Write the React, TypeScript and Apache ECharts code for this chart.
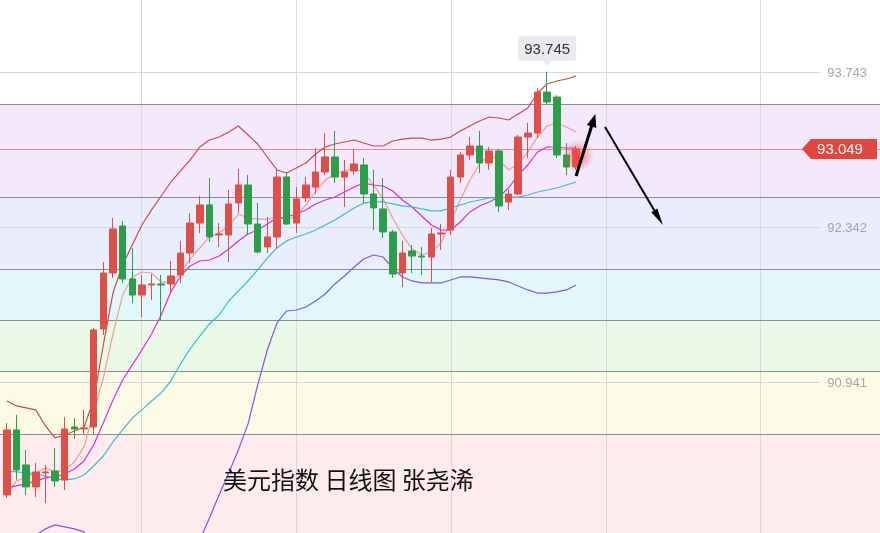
import React, { useEffect, useRef } from 'react';
import * as echarts from 'echarts';

// ---- data ----
const days: string[] = Array.from({ length: 91 }, (_, i) => String(i + 1));

// [open, close, low, high]
const candles: number[][] = [
  [89.925, 90.512, 89.898, 90.575],
  [90.512, 90.151, 90.061, 90.647],
  [90.196, 89.998, 89.925, 90.332],
  [89.998, 90.133, 89.907, 90.214],
  [90.124, 90.133, 89.853, 90.196],
  [90.142, 90.052, 89.998, 90.350],
  [90.061, 90.521, 89.970, 90.629],
  [90.539, 90.521, 90.431, 90.620],
  [90.521, 90.530, 90.476, 90.693],
  [90.539, 91.415, 90.476, 91.433],
  [91.424, 91.929, 91.369, 92.028],
  [91.929, 92.326, 91.884, 92.425],
  [92.353, 91.875, 91.839, 92.398],
  [91.875, 91.730, 91.658, 92.155],
  [91.730, 91.821, 91.532, 91.911],
  [91.821, 91.830, 91.685, 91.920],
  [91.830, 91.821, 91.505, 91.911],
  [91.830, 91.902, 91.757, 92.037],
  [91.911, 92.109, 91.839, 92.218],
  [92.109, 92.380, 92.019, 92.470],
  [92.380, 92.543, 92.290, 92.624],
  [92.543, 92.254, 92.209, 92.786],
  [92.272, 92.281, 92.164, 92.380],
  [92.272, 92.552, 92.028, 92.678],
  [92.561, 92.723, 92.470, 92.868],
  [92.723, 92.371, 92.272, 92.813],
  [92.371, 92.118, 92.109, 92.561],
  [92.164, 92.254, 92.109, 92.434],
  [92.254, 92.795, 92.155, 92.859],
  [92.795, 92.371, 92.362, 92.840],
  [92.380, 92.597, 92.290, 92.705],
  [92.606, 92.723, 92.570, 92.795],
  [92.705, 92.840, 92.642, 93.057],
  [92.840, 92.976, 92.813, 93.192],
  [92.976, 92.795, 92.741, 93.211],
  [92.795, 92.840, 92.525, 92.949],
  [92.850, 92.913, 92.813, 93.048],
  [92.904, 92.642, 92.561, 92.967],
  [92.642, 92.516, 92.317, 92.859],
  [92.507, 92.299, 92.245, 92.786],
  [92.299, 91.920, 91.884, 92.317],
  [91.929, 92.109, 91.803, 92.218],
  [92.128, 92.082, 91.929, 92.182],
  [92.082, 92.073, 91.911, 92.164],
  [92.073, 92.281, 91.848, 92.335],
  [92.281, 92.290, 92.137, 92.371],
  [92.317, 92.795, 92.272, 92.859],
  [92.795, 92.994, 92.741, 93.021],
  [92.994, 93.075, 92.949, 93.156],
  [93.075, 92.922, 92.831, 93.211],
  [92.922, 93.030, 92.859, 93.066],
  [93.030, 92.534, 92.479, 93.048],
  [92.570, 92.642, 92.498, 92.678],
  [92.642, 93.156, 92.633, 93.174],
  [93.156, 93.192, 92.967, 93.283],
  [93.192, 93.562, 93.147, 93.599],
  [93.562, 93.472, 93.454, 93.745],
  [93.517, 92.994, 92.967, 93.535],
  [92.994, 92.886, 92.813, 93.102],
  [92.886, 93.049, 92.859, 93.075],
];

const bollUpper = [
  90.774, 90.729, 90.711, 90.693, 90.548, 90.440, 90.467, 90.503, 90.539, 90.783,
  91.279, 91.748, 92.001, 92.182, 92.362, 92.498, 92.624, 92.750, 92.850, 92.949,
  93.066, 93.129, 93.156, 93.202, 93.256, 93.174, 93.093, 92.976, 92.859, 92.831,
  92.877, 92.922, 93.003, 93.066, 93.093, 93.111, 93.129, 93.102, 93.075, 93.075,
  93.120, 93.138, 93.147, 93.147, 93.129, 93.138, 93.156, 93.211, 93.256, 93.301,
  93.337, 93.328, 93.310, 93.364, 93.418, 93.553, 93.635, 93.662, 93.680, 93.707,
];

const bollMid = [
  90.142, 90.133, 90.124, 90.115, 90.097, 90.070, 90.061, 90.070, 90.106, 90.187,
  90.277, 90.404, 90.512, 90.620, 90.693, 90.774, 90.846, 90.954, 91.108, 91.243,
  91.360, 91.469, 91.550, 91.676, 91.767, 91.857, 91.956, 92.064, 92.155, 92.218,
  92.254, 92.281, 92.317, 92.362, 92.407, 92.461, 92.516, 92.561, 92.570, 92.570,
  92.552, 92.534, 92.525, 92.507, 92.489, 92.489, 92.516, 92.543, 92.570, 92.588,
  92.606, 92.606, 92.615, 92.615, 92.633, 92.660, 92.678, 92.696, 92.723, 92.750,
];

const bollLower = [
  89.429, 89.474, 89.519, 89.564, 89.619, 89.655, 89.637, 89.619, 89.592, 89.339,
  89.068, 88.888, 88.797, 88.752, 88.752, 88.797, 88.888, 89.023, 89.203, 89.384,
  89.519, 89.718, 89.925, 90.124, 90.332, 90.566, 90.918, 91.234, 91.478, 91.586,
  91.595, 91.622, 91.676, 91.739, 91.830, 91.902, 91.983, 92.055, 92.091, 92.073,
  91.974, 91.893, 91.857, 91.839, 91.839, 91.839, 91.866, 91.893, 91.893, 91.884,
  91.875, 91.866, 91.848, 91.812, 91.776, 91.748, 91.748, 91.758, 91.776, 91.821,
];

const ma5 = [
  89.925, 90.052, 90.088, 90.124, 90.169, 90.133, 90.151, 90.223, 90.359, 90.674,
  90.981, 91.378, 91.730, 91.893, 91.938, 91.929, 91.848, 91.839, 91.929, 92.055,
  92.155, 92.254, 92.290, 92.353, 92.461, 92.425, 92.416, 92.416, 92.434, 92.407,
  92.443, 92.543, 92.660, 92.768, 92.822, 92.850, 92.868, 92.840, 92.723, 92.597,
  92.425, 92.272, 92.146, 92.091, 92.119, 92.200, 92.389, 92.588, 92.768, 92.913,
  92.994, 92.949, 92.859, 92.913, 93.021, 93.156, 93.256, 93.283, 93.247, 93.202,
];

const ma10 = [
  89.989, 90.007, 90.025, 90.052, 90.079, 90.088, 90.115, 90.160, 90.232, 90.377,
  90.575, 90.783, 90.963, 91.099, 91.234, 91.378, 91.550, 91.758, 91.902, 91.992,
  92.037, 92.046, 92.082, 92.146, 92.218, 92.281, 92.317, 92.371, 92.425, 92.434,
  92.461, 92.498, 92.552, 92.588, 92.615, 92.660, 92.705, 92.741, 92.723, 92.714,
  92.669, 92.588, 92.525, 92.443, 92.362, 92.317, 92.317, 92.389, 92.480, 92.534,
  92.570, 92.615, 92.696, 92.813, 92.904, 93.021, 93.066, 93.066, 93.057, 93.057,
];

// horizontal zone boundaries (top to bottom)
const bandEdges = [93.454, 92.615, 91.965, 91.505, 91.045, 90.476];
const gridPrices = [93.743, 92.342, 90.941];
const lastPrice = 93.049;
const peakPrice = 93.745;
const peakIndex = 56;
const priceRange = [89.582, 94.393];
// arrows: [categoryIndex, price] start -> end
const arrowUp = [[59.1, 92.804], [61.07, 93.364]];
const arrowDown = [[61.9, 93.247], [68.32, 92.362]];
const titleText = '美元指数 日线图 张尧浠';

const bandColors = ['#f3e8fc', '#e9edfc', '#e2f7fb', '#eaf9e6', '#fcfce6', '#fdebee'];

export default function App() {
  const ref = useRef<HTMLDivElement>(null);
  useEffect(() => {
    const chart = echarts.init(ref.current!, null, { renderer: 'svg' });
    const lineSeries = (name: string, data: number[], color: string) => ({
      name,
      type: 'line',
      data,
      symbol: 'none',
      smooth: false,
      z: 3,
      lineStyle: { color, width: 1.2 },
      silent: true,
    });
    chart.setOption({
      animation: false,
      grid: { left: 2, right: 0, top: 0, bottom: 0 },
      xAxis: { type: 'category', data: days, show: false, boundaryGap: true },
      yAxis: { type: 'value', min: priceRange[0], max: priceRange[1], show: false },
      series: [
        {
          name: 'DXY',
          type: 'candlestick',
          data: candles,
          barWidth: 7,
          z: 4,
          itemStyle: {
            color: '#dd4f49',
            color0: '#2c9d49',
            borderColor: '#dd4f49',
            borderColor0: '#2c9d49',
            borderWidth: 1,
          },
        },
        lineSeries('BOLL-UP', bollUpper, '#cc4b45'),
        lineSeries('MA5', ma5, '#f39a8d'),
        lineSeries('MA10', ma10, '#e327df'),
        lineSeries('BOLL-MID', bollMid, '#3cbad7'),
        lineSeries('BOLL-LOW', bollLower, '#8656e0'),
      ],
    });

    const toPx = (i: number, v: number) => chart.convertToPixel({ gridIndex: 0 }, [i, v]) as number[];
    const yOf = (v: number) => toPx(0, v)[1];

    const els: any[] = [];
    // coloured zones spanning the full width
    const edges = [...bandEdges, priceRange[0]];
    bandColors.forEach((c, k) => {
      const y1 = yOf(edges[k]);
      const y2 = yOf(edges[k + 1]);
      els.push({ type: 'rect', z: 1, silent: true, shape: { x: 0, y: y1, width: 880, height: y2 - y1 }, style: { fill: c } });
    });
    // vertical grid lines
    [141.5, 296.5, 451.5, 606.5, 760.5].forEach((x) => {
      els.push({ type: 'line', z: 1.5, silent: true, shape: { x1: x, y1: 0, x2: x, y2: 533 }, style: { stroke: '#d8d8de', lineWidth: 1 } });
    });
    // price grid lines with labels
    gridPrices.forEach((p) => {
      const y = Math.round(yOf(p)) + 0.5;
      els.push({ type: 'line', z: 1.5, silent: true, shape: { x1: 0, y1: y, x2: 820, y2: y }, style: { stroke: '#d6d6dc', lineWidth: 1 } });
      els.push({ type: 'text', z: 10, x: 867, y, style: { text: p.toFixed(3), fill: '#a5a5a5', fontSize: 13, fontFamily: 'Liberation Sans, Arial', align: 'right', verticalAlign: 'middle' } });
    });
    // zone boundary lines
    bandEdges.forEach((v) => {
      const y = Math.round(yOf(v)) + 0.5;
      els.push({ type: 'line', z: 1.6, silent: true, shape: { x1: 0, y1: y, x2: 880, y2: y }, style: { stroke: '#8d8d96', lineWidth: 1 } });
    });
    // last price line + badge
    const yl = yOf(lastPrice);
    const ylr = Math.round(yl) + 0.5;
    els.push({ type: 'line', z: 1.6, silent: true, shape: { x1: 0, y1: ylr, x2: 880, y2: ylr }, style: { stroke: '#ec8a8a', lineWidth: 1 } });
    els.push({ type: 'polygon', z: 10, shape: { points: [[802, yl], [811, yl - 10], [877, yl - 10], [877, yl + 10], [811, yl + 10]] }, style: { fill: '#e2463c' } });
    els.push({ type: 'text', z: 11, x: 840, y: yl, style: { text: lastPrice.toFixed(3), fill: '#ffffff', fontSize: 15, fontFamily: 'Liberation Sans, Arial', align: 'center', verticalAlign: 'middle' } });
    // peak tooltip
    const pk = toPx(peakIndex, peakPrice);
    const bx = pk[0], by = pk[1] - 11;
    els.push({ type: 'rect', z: 10, shape: { x: bx - 29, y: by - 25, width: 58, height: 25, r: 3 }, style: { fill: '#e8eaed' } });
    els.push({ type: 'polygon', z: 10, shape: { points: [[bx - 5, by], [bx + 5, by], [bx, by + 5]] }, style: { fill: '#e8eaed' } });
    els.push({ type: 'text', z: 11, x: bx, y: by - 12.5, style: { text: peakPrice.toFixed(3), fill: '#333333', fontSize: 15, fontFamily: 'Liberation Sans, Arial', align: 'center', verticalAlign: 'middle' } });
    // glow on last candle
    const last = candles[candles.length - 1];
    const lc = toPx(candles.length - 1, (last[0] + last[1]) / 2);
    els.push({
      type: 'circle', z: 5, silent: true, shape: { cx: lc[0] + 2, cy: lc[1] - 2, r: 16 },
      style: { fill: new echarts.graphic.RadialGradient(0.5, 0.5, 0.5, [
        { offset: 0, color: 'rgba(255,70,70,0.7)' },
        { offset: 1, color: 'rgba(255,70,70,0)' },
      ]) },
    });
    // arrows
    const arrow = (s: number[], e: number[], w: number, hl: number, hw: number) => {
      const a = toPx(s[0], s[1]);
      const b = toPx(e[0], e[1]);
      const dx = b[0] - a[0], dy = b[1] - a[1];
      const len = Math.hypot(dx, dy);
      const ux = dx / len, uy = dy / len;
      const nx = -uy, ny = ux;
      const hx = b[0] - ux * hl, hy = b[1] - uy * hl;
      els.push({ type: 'line', z: 10, shape: { x1: a[0], y1: a[1], x2: hx + ux * 2, y2: hy + uy * 2 }, style: { stroke: '#000', lineWidth: w } });
      els.push({ type: 'polygon', z: 10, shape: { points: [[b[0], b[1]], [hx + nx * hw / 2, hy + ny * hw / 2], [hx - nx * hw / 2, hy - ny * hw / 2]] }, style: { fill: '#000' } });
    };
    arrow(arrowUp[0], arrowUp[1], 3, 13, 10);
    arrow(arrowDown[0], arrowDown[1], 2, 17, 7);
    // title
    els.push({ type: 'text', z: 10, x: 223, y: 478, style: { text: titleText, fill: '#111111', fontSize: 24, fontFamily: '"Noto Sans CJK SC", sans-serif', align: 'left', verticalAlign: 'middle' } });

    chart.setOption({ graphic: { elements: els } });
    return () => chart.dispose();
  }, []);
  return <div ref={ref} style={{ position: 'fixed', left: 0, top: 0, width: 880, height: 533 }} />;
}
